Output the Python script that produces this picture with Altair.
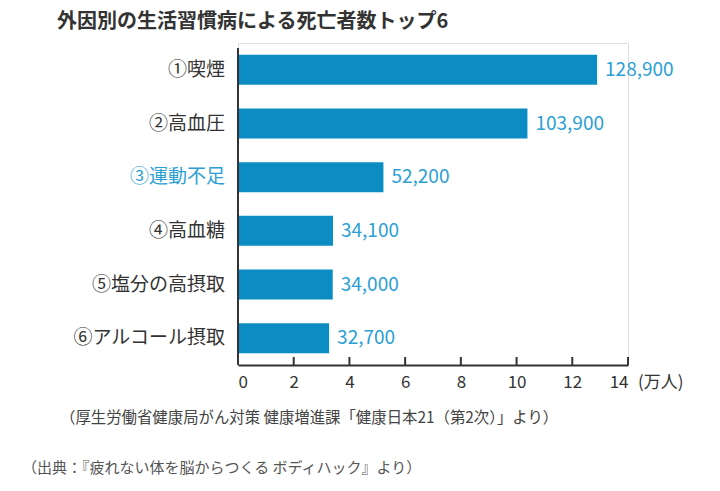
import altair as alt
import pandas as pd

# Deaths attributed to lifestyle-related risk factors (persons)
categories = ["①喫煙", "②高血圧", "③運動不足", "④高血糖", "⑤塩分の高摂取", "⑥アルコール摂取"]
deaths = [128900, 103900, 52200, 34100, 34000, 32700]
highlight = "③運動不足"
tick_values = [0, 2, 4, 6, 8, 10, 12, 14]

title_text = "外因別の生活習慣病による死亡者数トップ6"
unit_text = "(万人)"
note_text = "（厚生労働省健康局がん対策 健康増進課「健康日本21（第2次）」より）"
source_text = "（出典：『疲れない体を脳からつくる ボディハック』より）"

FONT = "Noto Sans CJK JP"
BAR = "#0b8dc4"
LABEL_BLUE = "#2b9fd4"
DARK = "#333333"
W, H = 390, 322

df = pd.DataFrame({"category": categories, "deaths": deaths})
df["man"] = df["deaths"] / 10000

base = alt.Chart(df)
y_enc = alt.Y("category:N", sort=categories,
              scale=alt.Scale(paddingInner=0.44, paddingOuter=0.22), axis=None)
x_scale = alt.Scale(domain=[0, 14], nice=False)

bars = base.mark_bar(color=BAR).encode(
    x=alt.X("man:Q", scale=x_scale,
            axis=alt.Axis(values=tick_values, format="d", grid=False, tickSize=0,
                          domainColor=DARK, domainWidth=2, labelColor=DARK,
                          labelFont=FONT, labelFontSize=17, labelPadding=9,
                          title=None)),
    y=y_enc,
)

values = base.mark_text(align="left", baseline="middle", dx=8, font=FONT,
                        fontSize=19, color=LABEL_BLUE).encode(
    x=alt.X("man:Q", scale=x_scale),
    y=y_enc,
    text=alt.Text("deaths:Q", format=","),
)

cat_labels = base.mark_text(align="right", baseline="middle", font=FONT,
                            fontSize=19).encode(
    x=alt.value(-13),
    y=y_enc,
    text="category:N",
    color=alt.condition(alt.datum.category == highlight,
                        alt.value(LABEL_BLUE), alt.value(DARK)),
)

ticks_df = pd.DataFrame({"t": tick_values})
ticks = alt.Chart(ticks_df).mark_rule(color=DARK, strokeWidth=2).encode(
    x=alt.X("t:Q", scale=x_scale),
    y=alt.value(H - 8),
    y2=alt.value(H),
)

left_line = alt.Chart(ticks_df).mark_rule(color=DARK, strokeWidth=2).encode(
    x=alt.value(0), y=alt.value(5), y2=alt.value(H)
)

def text_layer(txt, x, y, size, color, weight="normal"):
    return alt.Chart(pd.DataFrame({"t": [txt]})).mark_text(
        align="left", baseline="middle", font=FONT, fontSize=size,
        color=color, fontWeight=weight,
    ).encode(x=alt.value(x), y=alt.value(y), text="t:N")

title = text_layer(title_text, -181, -21, 20, DARK, "bold")
unit = text_layer(unit_text, W + 10, H + 18, 17, DARK)
note = text_layer(note_text, -178, H + 53, 15.4, "#444444")
source = text_layer(source_text, -216, H + 103, 15, "#555555")

chart = alt.layer(bars, ticks, left_line, values, cat_labels,
                  title, unit, note, source).properties(
    width=W, height=H,
    autosize=alt.AutoSizeParams(type="none"),
    padding={"left": 238, "top": 43, "right": 92, "bottom": 126},
).configure_view(strokeWidth=0, stroke="transparent").configure(background="white")

chart.save("out.html", embed_options={"renderer": "svg", "actions": False})
